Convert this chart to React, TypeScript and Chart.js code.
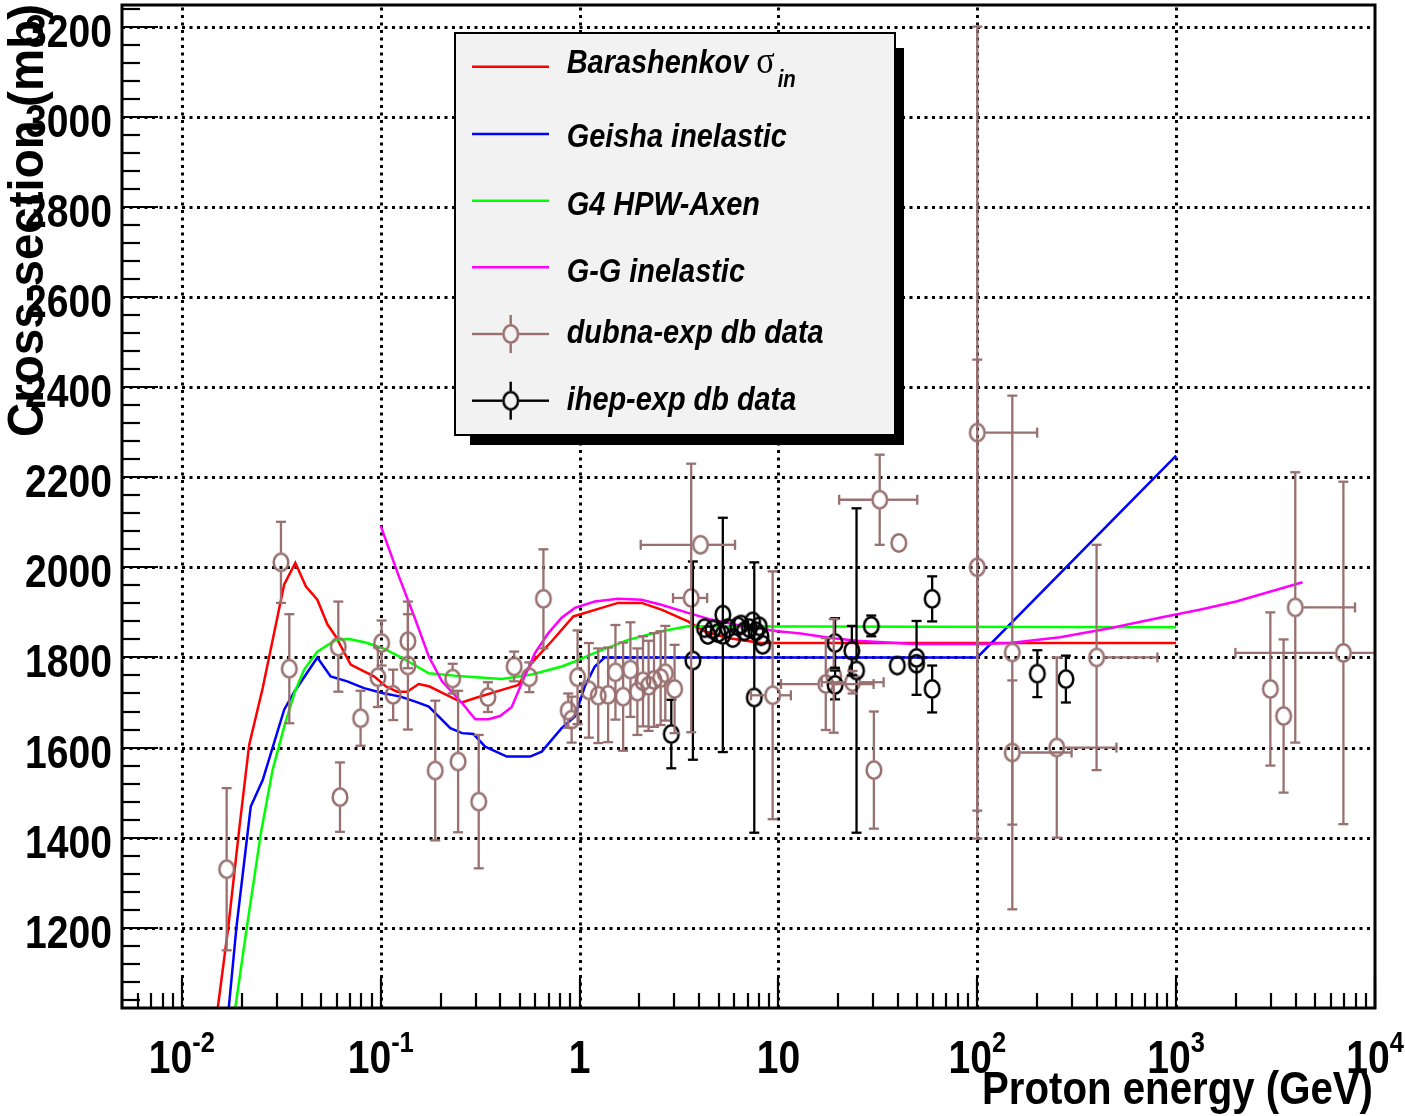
import React, { useEffect, useRef } from "react";
import { Chart, registerables } from "chart.js";

Chart.register(...registerables);

// ---------- axis ranges and tick labels ----------
const xMin = 0.005;
const xMax = 10000;
const yMin = 1022;
const yMax = 3248;

const xMajorTicks = [0.01, 0.1, 1, 10, 100, 1000, 10000];
const xTickBase = ["10", "10", "1", "10", "10", "10", "10"];
const xTickExp = ["-2", "-1", "", "", "2", "3", "4"];
const yMajorTicks = [1200, 1400, 1600, 1800, 2000, 2200, 2400, 2600, 2800, 3000, 3200];
const yTickLabels = ["1200", "1400", "1600", "1800", "2000", "2200", "2400", "2600", "2800", "3000", "3200"];

const xTitle = "Proton energy (GeV)";
const yTitle = "Cross-section (mb)";

// ---------- model curves ----------
const barashenkovE = [0.01515, 0.0171, 0.0195, 0.0218, 0.0255, 0.0327, 0.0372, 0.042, 0.048, 0.054, 0.0593, 0.0706, 0.0824, 0.0925, 0.106, 0.121, 0.136, 0.155, 0.175, 0.256, 0.299, 0.407, 0.493, 0.575, 0.724, 0.93, 1.29, 1.56, 2.05, 2.58, 3.51, 4.25, 5.56, 8.17, 1000];
const barashenkovSigma = [1022, 1200, 1425, 1606, 1732, 1962, 2010, 1958, 1928, 1873, 1847, 1784, 1769, 1758, 1736, 1724, 1724, 1741, 1736, 1700, 1710, 1728, 1739, 1788, 1836, 1891, 1910, 1921, 1921, 1906, 1880, 1858, 1843, 1832, 1832];

const geishaE = [0.01721, 0.0188, 0.0222, 0.0255, 0.0327, 0.0368, 0.048, 0.056, 0.0679, 0.0824, 0.1018, 0.1257, 0.1494, 0.1745, 0.2239, 0.2564, 0.293, 0.335, 0.431, 0.564, 0.645, 0.8125, 0.947, 1.063, 1.193, 1.339, 100, 1000];
const geishaSigma = [1022, 1200, 1469, 1528, 1684, 1724, 1800, 1758, 1747, 1732, 1721, 1713, 1702, 1691, 1643, 1632, 1630, 1602, 1580, 1580, 1591, 1643, 1669, 1736, 1780, 1800, 1800, 2248];

const axenE = [0.01856, 0.0212, 0.02225, 0.02497, 0.02858, 0.03273, 0.0368, 0.04121, 0.048, 0.0594, 0.0693, 0.0839, 0.1018, 0.1282, 0.1745, 0.2564, 0.4066, 0.5746, 0.8125, 0.947, 1.193, 1.754, 2.577, 3.507, 1000];
const axenSigma = [1022, 1200, 1262, 1410, 1550, 1647, 1721, 1773, 1813, 1839, 1841, 1833, 1821, 1799, 1765, 1758, 1752, 1762, 1780, 1791, 1810, 1839, 1858, 1869, 1867];

const ggE = [0.1, 0.1234, 0.1494, 0.1745, 0.2033, 0.2564, 0.2987, 0.3485, 0.3985, 0.456, 0.512, 0.597, 0.697, 0.8125, 0.947, 1.193, 1.563, 2.045, 2.577, 3.507, 4.588, 6.74, 9.91, 12.96, 18.33, 24.9, 47.9, 103.5, 146, 260.6, 464, 826, 1312, 2003, 4322];
const ggSigma = [2092, 1980, 1884, 1802, 1747, 1699, 1663, 1663, 1670, 1690, 1743, 1810, 1854, 1888, 1910, 1924, 1930, 1928, 1917, 1899, 1884, 1869, 1858, 1853, 1843, 1837, 1830, 1830, 1832, 1845, 1865, 1888, 1906, 1924, 1967];

// ---------- dubna-exp data ----------
const dubnaE = [
  0.0168, 0.0315, 0.0347, 0.0612, 0.0624, 0.0792, 0.0968, 0.101, 0.1155, 0.137,
  0.137, 0.188, 0.23, 0.245, 0.311, 0.346, 0.469, 0.559, 0.658, 0.877,
  0.912, 0.977, 1.114, 1.241, 1.392, 1.515, 1.656, 1.802, 1.953, 2.084,
  2.223, 2.368, 2.556, 2.698, 3.004, 3.642, 4.055, 9.35, 17.3, 18.97,
  23.6, 32.3, 40.3, 30.2, 100, 100, 150, 150, 251, 398,
  2976, 3470, 3972, 6936,
];
const dubnaSigma = [
  1330, 2011, 1775, 1824, 1490, 1665, 1756, 1832, 1717, 1836,
  1782, 1549, 1753, 1569, 1480, 1712, 1780, 1756, 1930, 1682,
  1662, 1756, 1727, 1715, 1717, 1767, 1713, 1773, 1724, 1747,
  1737, 1750, 1754, 1765, 1730, 1932, 2050, 1716, 1741, 1759,
  1745, 2150, 2054, 1550, 2299, 2000, 1811, 1589, 1600, 1800,
  1730, 1670, 1911, 1810,
];
const dubnaErrLow = [
  180, 90, 121, 100, 77, 61, 66, 50, 56, 60,
  142, 155, 33, 157, 148, 33, 33, 33, 110, 38,
  51, 104, 105, 105, 105, 105, 120, 105, 96, 100,
  100, 104, 104, 105, 98, 298, 0, 275, 102, 126,
  25, 100, 0, 130, 901, 540, 570, 160, 200, 250,
  170, 170, 300, 380,
];
const dubnaErrHigh = [
  180, 90, 121, 100, 77, 61, 66, 50, 56, 60,
  142, 155, 33, 157, 148, 33, 33, 33, 110, 38,
  51, 104, 105, 105, 105, 105, 120, 105, 96, 100,
  100, 104, 104, 105, 98, 298, 0, 275, 102, 126,
  25, 100, 0, 130, 901, 461, 570, 160, 200, 250,
  170, 170, 300, 380,
];
// energy of the ends of the horizontal bars (0 = none)
const dubnaELow = [
  0, 0, 0, 0, 0, 0, 0, 0, 0, 0,
  0, 0, 0, 0, 0, 0, 0, 0, 0, 0,
  0, 0, 0, 0, 0, 0, 0, 0, 0, 0,
  0, 0, 0, 0, 0, 2.95, 2.03, 7.28, 10.3, 0,
  16.5, 20.2, 0, 0, 0, 0, 0, 0, 0, 0,
  0, 0, 0, 1986,
];
const dubnaEHigh = [
  0, 0, 0, 0, 0, 0, 0, 0, 0, 0,
  0, 0, 0, 0, 0, 0, 0, 0, 0, 0,
  0, 0, 0, 0, 0, 0, 0, 0, 0, 0,
  0, 0, 0, 0, 0, 4.38, 6.05, 11.55, 30.1, 0,
  33.8, 49.9, 0, 0, 200, 0, 0, 298, 501, 805,
  0, 0, 7935, 24200,
];

// ---------- ihep-exp data ----------
const ihepE = [2.892, 3.714, 4.249, 4.417, 4.68, 4.958, 5.252, 5.252, 5.563, 5.893, 6.244, 6.486, 6.74, 7.14, 7.42, 7.71, 8.01, 8.17, 8.33, 7.56, 19.27, 19.27, 23.4, 24.7, 29.3, 39.6, 49.5, 49.5, 59.3, 59.3, 200.5, 279];
const ihepSigma = [1630, 1793, 1865, 1850, 1862, 1854, 1895, 1850, 1865, 1843, 1869, 1873, 1858, 1865, 1880, 1858, 1869, 1847, 1828, 1711, 1832, 1739, 1815, 1771, 1870, 1782, 1799, 1786, 1930, 1730, 1764, 1752];
const ihepErr = [76, 220, 0, 0, 0, 0, 0, 260, 0, 0, 0, 0, 0, 0, 0, 0, 0, 0, 0, 300, 55, 32, 55, 360, 23, 0, 82, 0, 50, 52, 52, 52];

// ---------- legend ----------
const legendLabels = ["Barashenkov", "Geisha inelastic", "G4 HPW-Axen", "G-G inelastic", "dubna-exp db data", "ihep-exp db data"];

const RED = "#ff0000";
const BLUE = "#0000ff";
const GREEN = "#00ff00";
const MAGENTA = "#ff00ff";
const DUBNA = "rgb(153,112,112)";
const IHEP = "#000000";
const legendColors = [RED, BLUE, GREEN, MAGENTA, DUBNA, IHEP];

const FONT = '"Liberation Sans", Arial, Helvetica, sans-serif';

function drawText(ctx: any, s: string, x: number, y: number, font: string, sx: number, align: string, fitWidth?: number) {
  ctx.save();
  ctx.font = font;
  ctx.textAlign = "left";
  ctx.textBaseline = "alphabetic";
  const raw = ctx.measureText(s).width;
  const scale = fitWidth ? fitWidth / raw : sx;
  const w = raw * scale;
  const x0 = align === "left" ? x : align === "right" ? x - w : x - w / 2;
  ctx.translate(x0, y);
  ctx.scale(scale, 1);
  ctx.fillText(s, 0, 0);
  ctx.restore();
  return w;
}

function seg(ctx: any, x1: number, y1: number, x2: number, y2: number) {
  ctx.beginPath();
  ctx.moveTo(x1, y1);
  ctx.lineTo(x2, y2);
  ctx.stroke();
}

function makeMarker(color: string) {
  const c = document.createElement("canvas");
  c.width = 22;
  c.height = 26;
  const g = c.getContext("2d")!;
  g.strokeStyle = color;
  g.lineWidth = 2.5;
  g.beginPath();
  g.ellipse(11, 13, 7.3, 8.7, 0, 0, Math.PI * 2);
  g.stroke();
  return c;
}

const GAP_X = 8;
const GAP_Y = 9.5;
const CAP = 5;
const BAR_W = 2.3;

const rootStyle: any = {
  id: "rootStyle",
  beforeDraw(chart: any) {
    const ctx = chart.ctx;
    ctx.save();
    ctx.fillStyle = "#ffffff";
    ctx.fillRect(0, 0, chart.width, chart.height);
    ctx.restore();
  },
  beforeDatasetsDraw(chart: any) {
    const { ctx, chartArea: a, scales } = chart;
    const x = scales.x;
    const y = scales.y;
    ctx.save();
    ctx.strokeStyle = "#000";
    ctx.lineWidth = 3;
    ctx.setLineDash([3, 4.5]);
    for (const v of xMajorTicks) {
      const px = Math.round(x.getPixelForValue(v)) + 0.5;
      if (px <= a.left + 2 || px >= a.right - 2) continue;
      seg(ctx, px, a.bottom, px, a.top);
    }
    for (const v of yMajorTicks) {
      const py = Math.round(y.getPixelForValue(v)) + 0.5;
      if (py <= a.top + 2 || py >= a.bottom - 2) continue;
      seg(ctx, a.left, py, a.right, py);
    }
    ctx.restore();
  },
  afterDatasetsDraw(chart: any) {
    const { ctx, chartArea: a, scales } = chart;
    const x = scales.x;
    const y = scales.y;
    ctx.save();
    ctx.beginPath();
    ctx.rect(a.left, a.top, a.right - a.left, a.bottom - a.top);
    ctx.clip();
    ctx.lineWidth = BAR_W;
    chart.data.datasets.forEach((ds: any) => {
      if (!ds.errorBars) return;
      ctx.strokeStyle = ds.errColor;
      ds.data.forEach((p: any) => {
        const px = x.getPixelForValue(p.x);
        const py = y.getPixelForValue(p.y);
        if (p.yHi > 0) {
          const t = y.getPixelForValue(p.y + p.yHi);
          if (py - t > GAP_Y) seg(ctx, px, py - GAP_Y, px, t);
          seg(ctx, px - CAP, t, px + CAP, t);
        }
        if (p.yLo > 0) {
          const b = y.getPixelForValue(p.y - p.yLo);
          if (b - py > GAP_Y) seg(ctx, px, py + GAP_Y, px, b);
          seg(ctx, px - CAP, b, px + CAP, b);
        }
        if (p.xHi > 0) {
          const r = x.getPixelForValue(p.xHi);
          if (r - px > GAP_X) seg(ctx, px + GAP_X, py, r, py);
          seg(ctx, r, py - CAP, r, py + CAP);
        }
        if (p.xLo > 0) {
          const l = x.getPixelForValue(p.xLo);
          if (px - l > GAP_X) seg(ctx, px - GAP_X, py, l, py);
          seg(ctx, l, py - CAP, l, py + CAP);
        }
      });
    });
    ctx.restore();
  },
  afterDraw(chart: any) {
    const { ctx, chartArea: a, scales } = chart;
    const x = scales.x;
    const y = scales.y;
    ctx.save();
    ctx.strokeStyle = "#000";
    ctx.fillStyle = "#000";
    ctx.lineWidth = 2.2;
    // y ticks
    for (let v = Math.ceil(yMin / 40) * 40; v <= yMax; v += 40) {
      const py = Math.round(y.getPixelForValue(v));
      const major = v % 200 === 0;
      seg(ctx, a.left, py, a.left + (major ? 36 : 18), py);
    }
    // x ticks
    for (let d = -3; d <= 4; d++) {
      for (let m = 1; m <= 9; m++) {
        const v = m * Math.pow(10, d);
        if (v < xMin * 0.999 || v > xMax * 1.001) continue;
        const px = Math.round(x.getPixelForValue(v));
        seg(ctx, px, a.bottom, px, a.bottom - (m === 1 ? 30 : 15));
      }
    }
    // frame
    ctx.lineWidth = 3;
    ctx.strokeRect(a.left, a.top, a.right - a.left, a.bottom - a.top);

    // y labels
    yMajorTicks.forEach((v, i) => {
      const py = y.getPixelForValue(v);
      drawText(ctx, yTickLabels[i], a.left - 10, py + 20, `bold 46px ${FONT}`, 0.85, "right");
    });
    // x labels
    xMajorTicks.forEach((v, i) => {
      const px = x.getPixelForValue(v);
      ctx.font = `bold 46px ${FONT}`;
      const wb = ctx.measureText(xTickBase[i]).width * 0.85;
      let we = 0;
      if (xTickExp[i]) {
        ctx.font = `bold 30px ${FONT}`;
        we = ctx.measureText(xTickExp[i]).width * 0.85;
      }
      const start = px - (wb + we) / 2;
      drawText(ctx, xTickBase[i], start, a.bottom + 65, `bold 46px ${FONT}`, 0.85, "left");
      if (xTickExp[i]) drawText(ctx, xTickExp[i], start + wb, a.bottom + 44, `bold 30px ${FONT}`, 0.85, "left");
    });
    // axis titles
    drawText(ctx, xTitle, 1373, 1104, `bold 46px ${FONT}`, 0.86, "right", 391);
    ctx.save();
    ctx.translate(43, 4);
    ctx.rotate(-Math.PI / 2);
    drawText(ctx, yTitle, 0, 0, `bold 50px ${FONT}`, 0.95, "right", 433);
    ctx.restore();

    // legend
    ctx.fillStyle = "#000";
    ctx.fillRect(470, 48, 434, 397);
    ctx.fillStyle = "#f2f2f2";
    ctx.fillRect(455, 33, 440, 402);
    ctx.lineWidth = 2;
    ctx.strokeStyle = "#000";
    ctx.strokeRect(455, 33, 440, 402);
    const rowY = [66.7, 134, 200.7, 267.3, 334, 400.7];
    const textY = [73.3, 147.3, 215, 281.7, 343.3, 410];
    const markers = [null, null, null, null, chart.$dubnaMarker, chart.$ihepMarker];
    legendLabels.forEach((lab, i) => {
      ctx.strokeStyle = legendColors[i];
      ctx.lineWidth = 2.4;
      const ly = rowY[i];
      const mk = markers[i];
      if (!mk) {
        seg(ctx, 472, ly, 549, ly);
      } else {
        const cx = 510.7;
        seg(ctx, 472, ly, cx - GAP_X, ly);
        seg(ctx, cx + GAP_X, ly, 549, ly);
        seg(ctx, cx, ly - 19, cx, ly - GAP_Y);
        seg(ctx, cx, ly + GAP_Y, cx, ly + 19);
        ctx.drawImage(mk, cx - 11, ly - 13);
      }
      ctx.fillStyle = "#000";
      const w = drawText(ctx, lab, 566.7, textY[i], `italic bold 34px ${FONT}`, 0.85, "left");
      if (i === 0) {
        const ws = drawText(ctx, "σ", 566.7 + w + 8, textY[i], `38px "Liberation Serif", serif`, 0.9, "left");
        drawText(ctx, "in", 566.7 + w + 8 + ws + 3, 86.7, `italic bold 24px ${FONT}`, 0.85, "left");
      }
    });
    ctx.restore();
  },
};

function xy(xs: number[], ys: number[]) {
  return xs.map((v, i) => ({ x: v, y: ys[i] }));
}

export default function App() {
  const ref = useRef<HTMLCanvasElement>(null);
  useEffect(() => {
    const canvas = ref.current;
    if (!canvas) return;
    const dubnaMarker = makeMarker(DUBNA);
    const ihepMarker = makeMarker(IHEP);
    const dubnaData = dubnaE.map((e, i) => ({
      x: e,
      y: dubnaSigma[i],
      yLo: dubnaErrLow[i],
      yHi: dubnaErrHigh[i],
      xLo: dubnaELow[i],
      xHi: dubnaEHigh[i],
    }));
    const ihepData = ihepE.map((e, i) => ({
      x: e,
      y: ihepSigma[i],
      yLo: ihepErr[i],
      yHi: ihepErr[i],
      xLo: 0,
      xHi: 0,
    }));
    const lineDs = (label: string, data: any[], color: string, order: number) => ({
      type: "scatter" as const,
      label,
      data,
      showLine: true,
      borderColor: color,
      backgroundColor: color,
      borderWidth: 2.5,
      pointRadius: 0,
      tension: 0,
      fill: false,
      order,
    });
    const chart: any = new Chart(canvas, {
      type: "scatter",
      data: {
        datasets: [
          {
            label: "ihep-exp db data",
            data: ihepData,
            pointStyle: ihepMarker,
            pointRadius: 9,
            showLine: false,
            order: 0,
            errorBars: true,
            errColor: IHEP,
          } as any,
          {
            label: "dubna-exp db data",
            data: dubnaData,
            pointStyle: dubnaMarker,
            pointRadius: 9,
            showLine: false,
            order: 1,
            errorBars: true,
            errColor: DUBNA,
          } as any,
          lineDs("G-G inelastic", xy(ggE, ggSigma), MAGENTA, 2),
          lineDs("G4 HPW-Axen", xy(axenE, axenSigma), GREEN, 3),
          lineDs("Geisha inelastic", xy(geishaE, geishaSigma), BLUE, 4),
          lineDs("Barashenkov", xy(barashenkovE, barashenkovSigma), RED, 5),
        ],
      },
      options: {
        responsive: false,
        animation: false,
        devicePixelRatio: 1,
        events: [],
        layout: { autoPadding: false, padding: { left: 122, right: 30, top: 5, bottom: 108 } },
        scales: {
          x: { type: "logarithmic", min: xMin, max: xMax, display: false },
          y: { type: "linear", min: yMin, max: yMax, display: false },
        },
        plugins: {
          legend: { display: false },
          tooltip: { enabled: false },
          title: { display: false },
        },
      },
      plugins: [rootStyle],
    });
    chart.$dubnaMarker = dubnaMarker;
    chart.$ihepMarker = ihepMarker;
    chart.draw();
    return () => chart.destroy();
  }, []);
  return (
    <div style={{ position: "absolute", left: 0, top: 0, width: 1405, height: 1116 }}>
      <canvas ref={ref} width={1405} height={1116} style={{ width: 1405, height: 1116, display: "block" }} />
    </div>
  );
}
